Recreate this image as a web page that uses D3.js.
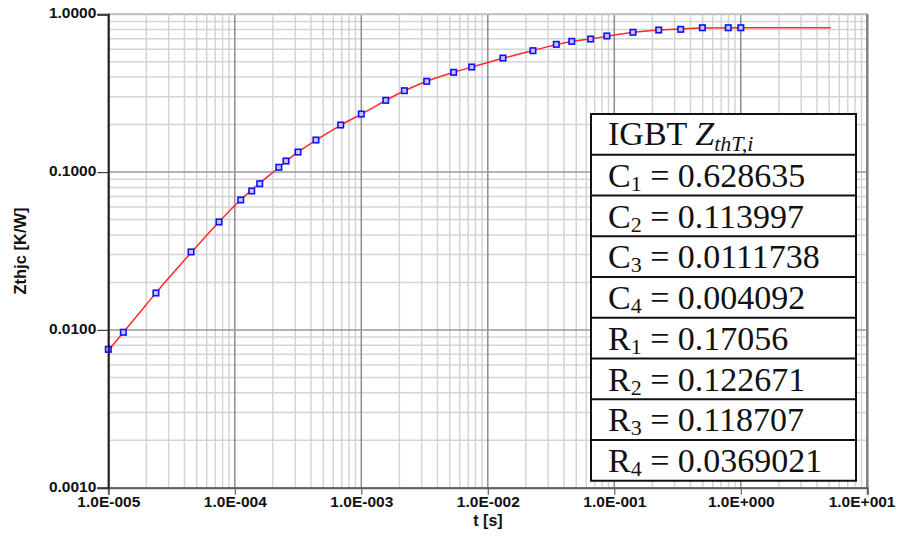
<!DOCTYPE html>
<html lang="en">
<head>
  <meta charset="UTF-8">
  <title>Zthjc</title>
  <script src="https://d3js.org/d3.v7.min.js"></script>
  <style>
    body { margin: 0; background: #fff; }
    svg { display: block; }
  </style>
</head>
<body>
<script>
// measured points (blue squares)
const measT = [1e-5, 1.315e-5, 2.38e-5, 4.51e-5, 7.5e-5, 1.114e-4, 1.361e-4, 1.574e-4, 2.23e-4, 2.54e-4,
  3.16e-4, 4.38e-4, 6.87e-4, 1.0e-3, 1.56e-3, 2.19e-3, 3.29e-3, 5.37e-3, 7.46e-3, 0.01318,
  0.02275, 0.0348, 0.0461, 0.065, 0.0874, 0.1405, 0.2245, 0.335, 0.497, 0.796, 1.0];
const measZ = [0.00753, 0.00966, 0.01714, 0.0312, 0.0483, 0.0666, 0.0759, 0.0844, 0.1073, 0.1176,
  0.134, 0.1597, 0.1988, 0.2334, 0.285, 0.328, 0.376, 0.429, 0.4634, 0.528,
  0.588, 0.645, 0.674, 0.697, 0.729, 0.769, 0.795, 0.803, 0.822, 0.822, 0.822];

// fitted curve (red)
const fitT = [1e-5, 2e-5, 3e-5, 5e-5, 7e-5, 1e-4, 1.5e-4, 2e-4, 3e-4, 5e-4, 7e-4, 1e-3, 2e-3, 3e-3,
  5e-3, 7e-3, 1e-2, 2e-2, 3e-2, 5e-2, 7e-2, 0.1, 0.2, 0.3, 0.5, 1, 2, 5.14];
const fitZ = [0.0074, 0.0145, 0.0213, 0.0338, 0.0455, 0.0615, 0.0825, 0.0995, 0.130, 0.170, 0.200, 0.233, 0.316, 0.366,
  0.422, 0.456, 0.495, 0.574, 0.624, 0.679, 0.704, 0.740, 0.789, 0.803, 0.818, 0.821, 0.822, 0.822];

const xLabels = ["1.0E-005", "1.0E-004", "1.0E-003", "1.0E-002", "1.0E-001", "1.0E+000", "1.0E+001"];
const yLabels = ["0.0010", "0.0100", "0.1000", "1.0000"];

// table rows: name, index, value
const paramNames = ["C", "C", "C", "C", "R", "R", "R", "R"];
const paramIdx = ["1", "2", "3", "4", "1", "2", "3", "4"];
const paramVals = ["0.628635", "0.113997", "0.0111738", "0.004092", "0.17056", "0.122671", "0.118707", "0.0369021"];

const width = 899, height = 537;
const margin = {top: 14.3, right: 31.7, bottom: 49.3, left: 108.3};

const x = d3.scaleLog().domain([1e-5, 10]).range([margin.left, width - margin.right]);
const y = d3.scaleLog().domain([0.001, 1]).range([height - margin.bottom, margin.top]);

const isMajor = v => Math.abs(Math.log10(v) - Math.round(Math.log10(v))) < 1e-9;
const xTicks = x.ticks(), yTicks = y.ticks();
const xMajor = xTicks.filter(isMajor), yMajor = yTicks.filter(isMajor);
const xMinor = xTicks.filter(v => !isMajor(v)), yMinor = yTicks.filter(v => !isMajor(v));

const svg = d3.select("body").append("svg")
    .attr("width", width)
    .attr("height", height)
    .style("font-family", "'Liberation Sans', Arial, sans-serif");

const grid = svg.append("g");
// minor grid
grid.selectAll(".vmin").data(xMinor).join("line")
    .attr("x1", d => x(d)).attr("x2", d => x(d))
    .attr("y1", margin.top).attr("y2", height - margin.bottom)
    .attr("stroke", "#d4d4d4").attr("stroke-width", 1.5);
grid.selectAll(".hmin").data(yMinor).join("line")
    .attr("y1", d => y(d)).attr("y2", d => y(d))
    .attr("x1", margin.left).attr("x2", width - margin.right)
    .attr("stroke", "#d4d4d4").attr("stroke-width", 1.5);
// major grid
grid.selectAll(".vmaj").data(xMajor).join("line")
    .attr("x1", d => x(d)).attr("x2", d => x(d))
    .attr("y1", margin.top).attr("y2", height - margin.bottom)
    .attr("stroke", "#8c8c8c").attr("stroke-width", 1.5);
grid.selectAll(".hmaj").data(yMajor).join("line")
    .attr("y1", d => y(d)).attr("y2", d => y(d))
    .attr("x1", margin.left).attr("x2", width - margin.right)
    .attr("stroke", "#9a9a9a").attr("stroke-width", 1.5);

// frame: top light, right dark
svg.append("line")
    .attr("x1", margin.left).attr("x2", width - margin.right)
    .attr("y1", margin.top).attr("y2", margin.top)
    .attr("stroke", "#c4c4c4").attr("stroke-width", 2);
svg.append("line")
    .attr("x1", width - margin.right).attr("x2", width - margin.right)
    .attr("y1", margin.top).attr("y2", height - margin.bottom)
    .attr("stroke", "#808080").attr("stroke-width", 2.5);

// red fitted curve
const line = d3.line()
    .x((d, i) => x(fitT[i]))
    .y(d => y(d))
    .curve(d3.curveMonotoneX);
svg.append("path")
    .attr("d", line(fitZ))
    .attr("fill", "none")
    .attr("stroke", "#ff2a2a")
    .attr("stroke-width", 1.5);

// blue measured squares
svg.append("g").selectAll("rect").data(measZ).join("rect")
    .attr("x", (d, i) => x(measT[i]) - 2.75)
    .attr("y", d => y(d) - 2.75)
    .attr("width", 5.5).attr("height", 5.5)
    .attr("fill", "#c8c8ff")
    .attr("stroke", "#1010ff")
    .attr("stroke-width", 1.6);

// axes
const bottom = svg.append("g").attr("transform", `translate(0,${height - margin.bottom})`);
bottom.call(d3.axisBottom(x).tickValues(xMinor).tickSize(4).tickFormat(""));
bottom.call(d3.axisBottom(x).tickValues(xMajor).tickSize(7).tickPadding(1)
    .tickFormat((d, i) => xLabels[i]));
bottom.selectAll(".domain").attr("stroke", "#606060").attr("stroke-width", 2);
bottom.selectAll(".tick line").attr("stroke", "#606060").attr("stroke-width", 1.2);
bottom.selectAll("text")
    .attr("font-size", 15.5).attr("font-weight", "bold").attr("fill", "#111")
    .attr("font-family", "'Liberation Sans', Arial, sans-serif");
// last label is pushed left so it stays inside the page
bottom.selectAll(".tick text").filter(d => d === xMajor[xMajor.length - 1])
    .attr("text-anchor", "end").attr("x", width - 4 - x(xMajor[xMajor.length - 1]));

const left = svg.append("g").attr("transform", `translate(${margin.left},0)`);
left.call(d3.axisLeft(y).tickValues(yMinor).tickSize(4).tickFormat(""));
left.call(d3.axisLeft(y).tickValues(yMajor).tickSize(11).tickPadding(1)
    .tickFormat((d, i) => yLabels[i]));
left.selectAll(".domain").attr("stroke", "#202020").attr("stroke-width", 2);
left.selectAll(".tick line").attr("stroke", "#404040").attr("stroke-width", 1.2);
left.selectAll("text")
    .attr("font-size", 15.5).attr("font-weight", "bold").attr("fill", "#111")
    .attr("dy", "0.22em")
    .attr("font-family", "'Liberation Sans', Arial, sans-serif");

// axis titles
svg.append("text")
    .attr("x", 488)
    .attr("y", 526)
    .attr("text-anchor", "middle")
    .attr("font-size", 16).attr("font-weight", "bold").attr("fill", "#111")
    .text("t [s]");
svg.append("text")
    .attr("transform", `translate(26,251) rotate(-90)`)
    .attr("text-anchor", "middle")
    .attr("font-size", 16.5).attr("font-weight", "bold").attr("fill", "#111")
    .text("Zthjc [K/W]");

// parameter table
const tbl = {x: 591, y: 114, w: 265, rowH: 40.75};
const nRows = paramVals.length + 1;
const tg = svg.append("g").style("font-family", "'Liberation Serif', 'Times New Roman', serif");
tg.append("rect")
    .attr("x", tbl.x).attr("y", tbl.y)
    .attr("width", tbl.w).attr("height", tbl.rowH * nRows)
    .attr("fill", "#fff").attr("stroke", "#111").attr("stroke-width", 2);
tg.selectAll(".sep").data(d3.range(1, nRows)).join("line")
    .attr("x1", tbl.x).attr("x2", tbl.x + tbl.w)
    .attr("y1", d => tbl.y + d * tbl.rowH).attr("y2", d => tbl.y + d * tbl.rowH)
    .attr("stroke", "#111").attr("stroke-width", 2);

const head = tg.append("text")
    .attr("x", tbl.x + 17).attr("y", tbl.y + 31)
    .attr("font-size", 34).attr("fill", "#111");
head.append("tspan").text("IGBT ");
head.append("tspan").attr("font-style", "italic").text("Z");
head.append("tspan").attr("font-style", "italic").attr("font-size", 22).attr("dy", 6).text("thT,i");

paramVals.forEach((v, i) => {
  const t = tg.append("text")
      .attr("x", tbl.x + 17).attr("y", tbl.y + (i + 1) * tbl.rowH + 32)
      .attr("font-size", 34).attr("fill", "#111");
  t.append("tspan").text(paramNames[i]);
  t.append("tspan").attr("font-size", 22).attr("dy", 4).text(paramIdx[i]);
  t.append("tspan").attr("dy", -4).text(" = " + v);
});
</script>
</body>
</html>
